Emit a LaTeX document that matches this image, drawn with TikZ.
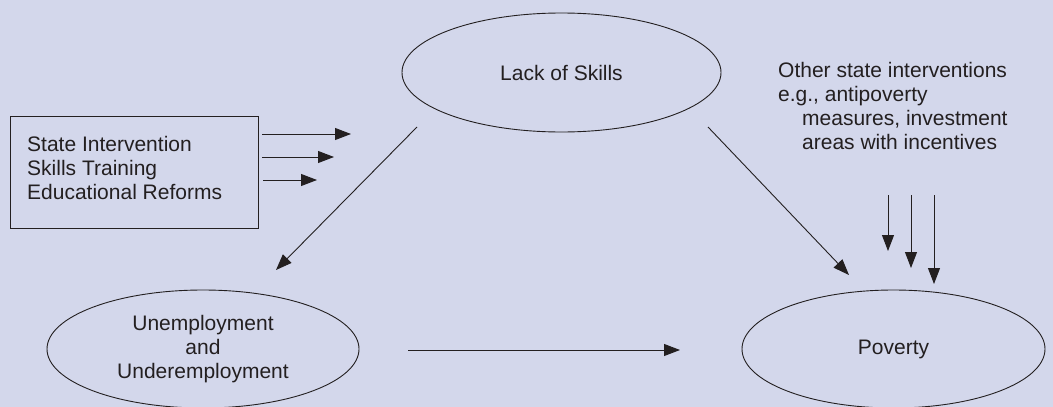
\documentclass[tikz,border=0pt]{standalone}
\usepackage{fontspec}
\setmainfont{Liberation Sans}
\usetikzlibrary{shapes.geometric,arrows.meta}
\definecolor{bg}{RGB}{211,215,235}
\definecolor{ink}{RGB}{35,31,32}
\begin{document}
\begin{tikzpicture}[x=1pt,y=-1pt,
  every node/.style={text=ink,font=\fontsize{21}{24}\selectfont},
  oval/.style={draw=ink,line width=0.9pt,ellipse,inner sep=0pt,align=center},
  boxnode/.style={draw=ink,line width=0.9pt,rectangle,minimum width=248pt,minimum height=112pt,inner sep=0pt},
  conn/.style={draw=ink,line width=0.9pt,-{Triangle[length=16pt,width=12pt]}}
]
\fill[bg] (0,0) rectangle (1053,407);
\useasboundingbox (0,0) rectangle (1053,407);

\node[oval,minimum width=319pt,minimum height=119pt] (lack) at (561.5,72.5) {Lack of Skills};
\node[oval,minimum width=312pt,minimum height=118pt] (unemp) at (203,349) {Unemployment\\and\\Underemployment};
\node[oval,minimum width=303pt,minimum height=118pt] (pov) at (893.5,349) {Poverty};

\node[boxnode] (box) at (134,172) {};
\node[anchor=west,align=left,inner sep=0pt] (boxtext) at (27,168) {State Intervention\\Skills Training\\Educational Reforms};

\node[anchor=west,align=left,inner sep=0pt] (other) at (778,105.5) {Other state interventions\\e.g., antipoverty\\\hspace*{24pt}measures, investment\\\hspace*{24pt}areas with incentives};

% box arrows
\coordinate (b1s) at (262,134); \coordinate (b1e) at (351,134);
\coordinate (b2s) at (262,157); \coordinate (b2e) at (334,157);
\coordinate (b3s) at (263,180); \coordinate (b3e) at (317,180);
\draw[conn] (b1s) -- (b1e);
\draw[conn] (b2s) -- (b2e);
\draw[conn] (b3s) -- (b3e);

% lack -> unemployment
\coordinate (lu1) at (417,127); \coordinate (lu2) at (276,270);
\draw[conn] (lu1) -- (lu2);
% lack -> poverty
\coordinate (lp1) at (708,127); \coordinate (lp2) at (849,275);
\draw[conn] (lp1) -- (lp2);
% unemployment -> poverty
\coordinate (up1) at (408,350); \coordinate (up2) at (680,350);
\draw[conn] (up1) -- (up2);

% other interventions arrows
\coordinate (o1s) at (888,195); \coordinate (o1e) at (888,251);
\coordinate (o2s) at (911,195); \coordinate (o2e) at (911,268);
\coordinate (o3s) at (934,195); \coordinate (o3e) at (934,284);
\draw[conn] (o1s) -- (o1e);
\draw[conn] (o2s) -- (o2e);
\draw[conn] (o3s) -- (o3e);
\end{tikzpicture}
\end{document}
